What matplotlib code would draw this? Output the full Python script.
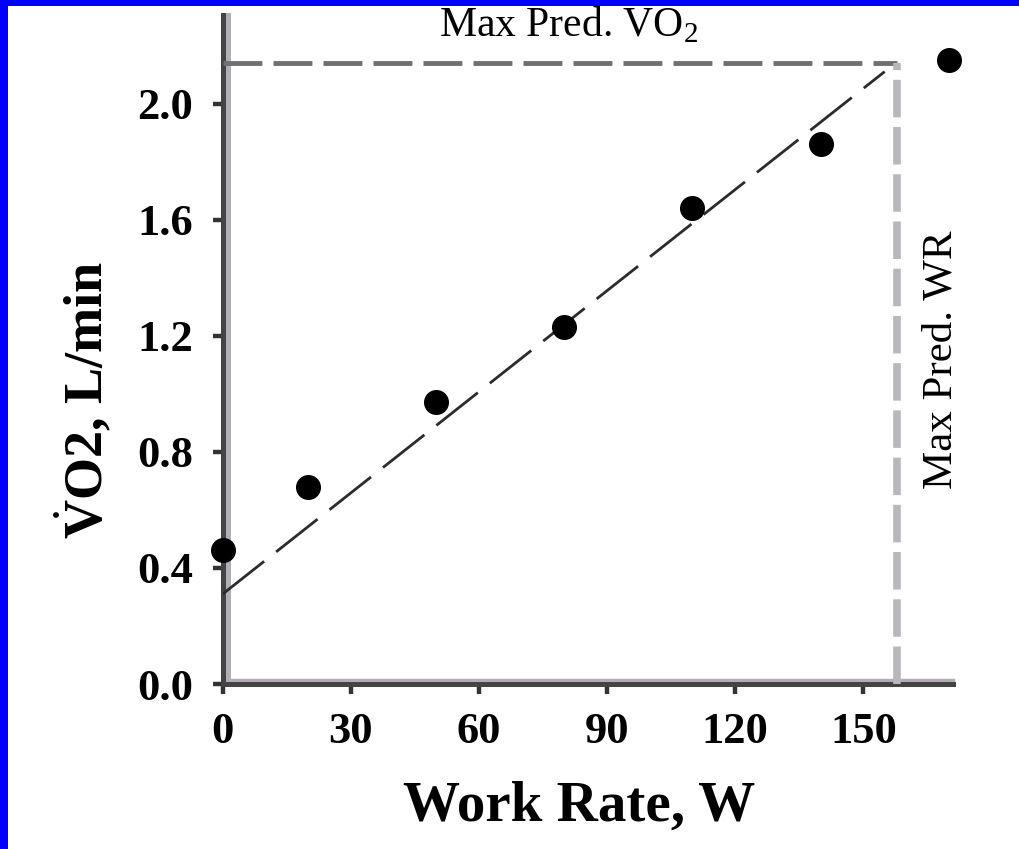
import matplotlib.pyplot as plt
from matplotlib.patches import Rectangle
from matplotlib.transforms import offset_copy

plt.rcParams.update({
    "font.family": ["Liberation Serif", "DejaVu Serif"],
    "mathtext.fontset": "custom",
    "mathtext.rm": "Liberation Serif",
    "mathtext.bf": "Liberation Serif:bold",
    "lines.scale_dashes": False,
})

# incremental exercise test: measured VO2 per stage
work_rate = [0, 20, 50, 80, 110, 140, 170]
vo2 = [0.46, 0.68, 0.97, 1.23, 1.64, 1.86, 2.15]

# predicted VO2 / work-rate relation
fit_work = [0, 155]
fit_vo2 = [0.31, 2.11]

max_pred_wr = 158
max_pred_vo2 = 2.14

x_ticks = [0, 30, 60, 90, 120, 150]
y_ticks = [0.0, 0.4, 0.8, 1.2, 1.6, 2.0]

W, H = 1020, 849
fig = plt.figure(figsize=(W / 100, H / 100), dpi=100)
ax = fig.add_axes([222.7 / W, 1 - 684 / H, (953 - 222.7) / W, (684 - 15) / H])
ax.set_xlim(0, 171)
ax.set_ylim(0, 2.305)

for side in ("top", "right"):
    ax.spines[side].set_visible(False)
for side in ("left", "bottom"):
    ax.spines[side].set_linewidth(3.6)
    ax.spines[side].set_color("#444444")

# soft grey edge next to each axis line
ax.plot([0, 0], [0, 1], color="#b3aeb6", lw=3.6, clip_on=False, zorder=1.5,
        transform=offset_copy(ax.get_xaxis_transform(), fig=fig, x=5, y=0, units="dots"))
ax.plot([0, 1], [0, 0], color="#b3aeb6", lw=2.5, clip_on=False, zorder=1.5,
        transform=offset_copy(ax.get_yaxis_transform(), fig=fig, x=0, y=4, units="dots"))

ax.set_xticks(x_ticks, labels=[f"{v:d}" for v in x_ticks], fontsize=32, fontweight="bold")
ax.set_yticks(y_ticks, labels=[f"{v:.1f}" for v in y_ticks], fontsize=32, fontweight="bold")
ax.tick_params(axis="both", direction="out", length=7.5, width=3.2, color="#333333")
ax.tick_params(axis="x", pad=13)
ax.tick_params(axis="y", pad=14)

ax.plot(fit_work, fit_vo2, color="#2b2b2b", lw=2.0, dashes=(38, 11), zorder=3)
ax.plot([0, max_pred_wr], [max_pred_vo2, max_pred_vo2], color="#707070", lw=3.5,
        dashes=(28, 8), clip_on=False, zorder=3)
ax.plot([max_pred_wr, max_pred_wr], [0, max_pred_vo2], color="#bab6be", lw=5.5,
        dashes=(27, 7), clip_on=False, zorder=3)
ax.plot(work_rate, vo2, "o", color="black", ms=17, clip_on=False, zorder=5)

fig.text(569 / W, 1 - 36 / H, "Max Pred. VO$_2$", ha="center", va="baseline", fontsize=30)
fig.text(952 / W, 1 - 360 / H, "Max Pred. WR", rotation=90, rotation_mode="anchor",
         ha="center", va="baseline", fontsize=31)
fig.text(103 / W, 1 - 400 / H, r"$\dot{\mathbf{V}}$O2, L/min", rotation=90,
         rotation_mode="anchor", ha="center", va="baseline", fontsize=39, fontweight="bold")
fig.text(579 / W, 1 - 821 / H, "Work Rate, W", ha="center", va="baseline",
         fontsize=41, fontweight="bold")

# blue frame on the left and top edges
fig.add_artist(Rectangle((0, 0), 8 / W, 1, transform=fig.transFigure,
                         facecolor="#0000ff", linewidth=0, zorder=10))
fig.add_artist(Rectangle((0, 1 - 6 / H), 1, 6 / H, transform=fig.transFigure,
                         facecolor="#0000ff", linewidth=0, zorder=10))

fig.savefig("out.png", dpi=100)
